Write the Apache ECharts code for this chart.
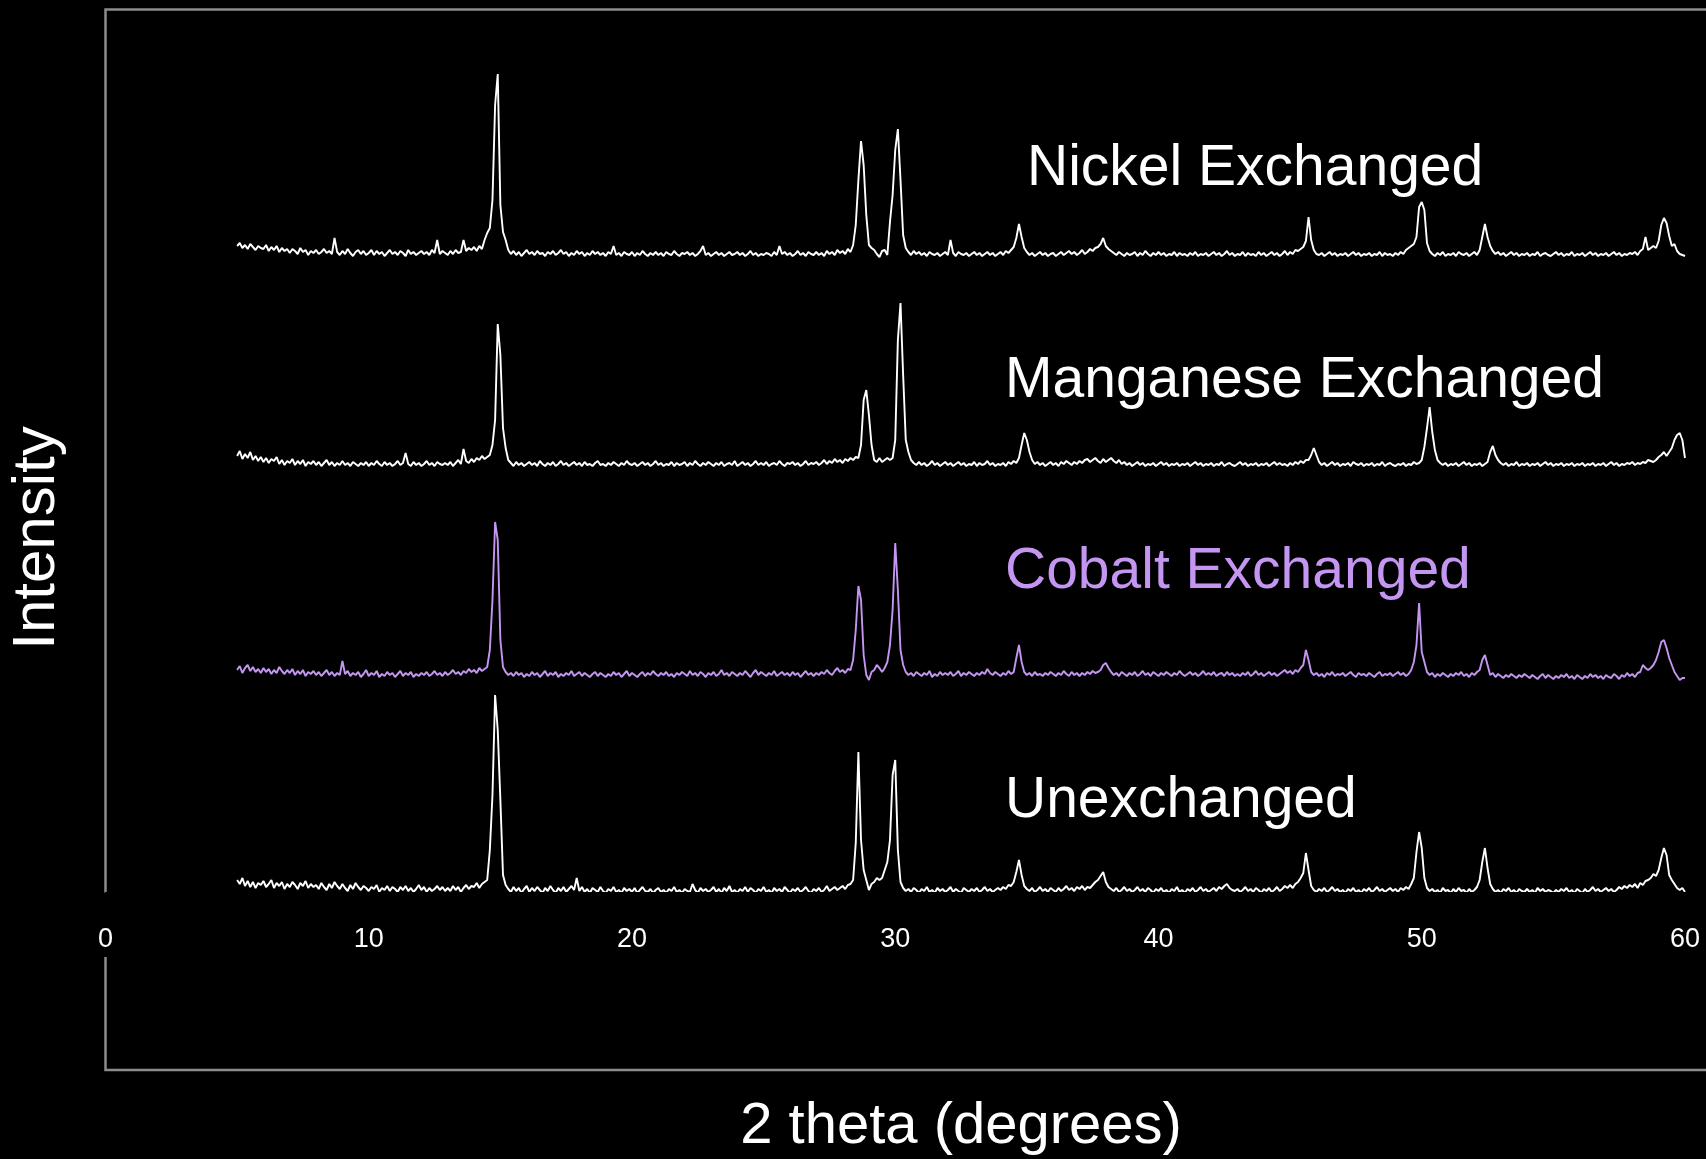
<!DOCTYPE html>
<html>
<head>
<meta charset="utf-8">
<style>
html,body{margin:0;padding:0;background:#000;}
#chart{width:1706px;height:1159px;}
</style>
<script src="https://cdn.jsdelivr.net/npm/echarts@6/dist/echarts.min.js"></script>
</head>
<body>
<div id="chart"></div>
<script>
// 2-theta sampling of the patterns (degrees)
var thetaStart = 5.0;
var thetaStep = 0.1;
var xTicks = [0, 10, 20, 30, 40, 50, 60];

var seriesNames = ['Nickel Exchanged', 'Manganese Exchanged', 'Cobalt Exchanged', 'Unexchanged'];

// Intensities (offset, arbitrary units), one value per 0.1 degree from 5.0 to 60.0
var nickel = [
660,663,658,661,657,662,659,656,660,658,
657,661,655,659,656,660,654,658,655,657,
653,657,655,652,658,654,656,651,655,653,
656,652,654,657,653,655,652,668,654,651,
655,652,657,653,650,654,656,652,655,651,
653,656,651,655,652,654,650,653,656,652,
654,651,655,653,650,656,652,654,651,653,
655,652,654,651,656,653,666,652,655,653,
651,655,652,656,653,654,666,655,658,656,
659,655,660,657,666,673,678,706,801,832,
701,674,666,656,652,655,651,654,650,653,
656,652,654,651,655,652,653,650,654,652,
655,651,653,656,652,654,650,653,651,655,
652,654,650,653,651,655,652,654,651,653,
650,654,652,660,651,653,650,654,652,651,
654,650,653,651,655,652,650,653,651,654,
651,653,650,654,652,651,655,652,650,653,
652,654,651,653,650,652,655,660,651,653,
650,652,654,651,653,650,652,654,651,652,
654,651,653,650,652,655,651,653,650,652,
651,653,652,650,654,651,660,652,654,651,
653,650,652,655,651,653,650,654,652,651,
654,651,653,650,655,652,654,651,656,653,
655,652,657,654,661,681,726,765,741,691,
661,658,656,652,649,655,656,651,684,711,
756,777,726,671,658,654,651,655,652,654,
651,653,650,654,652,651,653,650,652,654,
651,666,653,650,654,652,651,653,650,652,
654,651,653,650,652,654,651,653,650,652,
654,651,655,653,656,659,668,682,669,658,
654,651,653,650,652,654,651,653,650,652,
653,650,652,654,651,653,655,652,654,651,
653,656,652,654,657,655,658,659,662,668,
660,657,655,653,651,654,652,650,653,651,
652,654,650,653,651,655,652,650,653,651,
654,651,653,650,652,651,654,650,653,651,
652,650,653,651,654,650,652,651,653,650,
652,654,651,653,650,652,655,651,653,650,
652,651,654,650,653,651,652,650,654,651,
653,650,652,654,651,653,650,652,655,651,
654,652,656,655,657,659,665,689,666,656,
652,651,653,650,652,654,651,653,650,652,
651,653,650,652,654,651,653,650,652,651,
653,650,652,651,654,650,653,651,652,650,
653,651,654,652,656,658,660,662,669,699,
704,696,663,655,652,650,653,651,654,650,
652,651,653,650,654,652,651,653,650,652,
654,651,656,669,682,669,660,655,652,654,
651,653,650,652,654,651,653,650,652,651,
653,650,652,651,654,650,652,653,651,650,
652,654,651,653,650,652,651,654,650,652,
651,653,650,652,654,651,653,650,652,651,
653,650,652,654,651,653,650,652,651,653,
652,654,651,655,657,669,656,658,660,658,
665,681,688,683,670,660,662,655,652,651,
650
];

var manganese = [
450,455,447,452,448,454,446,450,445,449,
444,448,443,447,445,449,442,446,441,445,
443,447,441,445,442,446,440,444,442,445,
441,444,440,443,446,441,444,440,443,441,
445,441,443,440,444,442,440,443,441,444,
440,443,441,445,442,440,444,441,443,440,
442,445,441,443,453,442,440,444,441,443,
440,442,445,441,443,440,444,442,441,443,
441,444,440,443,446,442,457,445,443,447,
444,448,446,450,447,449,451,461,486,582,
551,478,458,446,443,440,444,441,443,440,
442,444,441,443,440,445,442,440,443,441,
444,440,442,445,441,443,440,442,444,441,
443,440,444,441,442,440,443,445,441,442,
440,443,441,444,442,440,443,441,445,442,
441,443,440,442,444,441,443,440,442,445,
441,443,440,442,441,444,440,443,441,442,
444,440,443,441,445,442,440,443,441,444,
442,440,443,441,444,440,442,443,441,445,
440,442,444,441,443,440,442,445,441,443,
441,444,440,442,443,441,445,442,440,443,
442,444,441,443,440,442,445,441,443,442,
444,441,443,446,442,445,443,447,444,446,
443,447,445,448,446,449,448,461,506,516,
491,461,446,444,448,444,446,448,446,448,
466,566,603,531,466,454,446,443,441,444,
441,443,440,442,445,441,443,440,442,444,
441,443,440,442,444,441,443,440,442,441,
444,440,443,441,442,445,441,443,440,442,
441,443,440,444,442,445,443,448,461,473,
466,454,446,442,444,441,443,440,442,444,
441,443,440,444,442,445,443,441,444,442,
445,443,446,447,444,446,448,445,443,447,
444,446,448,445,443,446,442,444,441,443,
440,442,444,441,443,440,442,441,443,440,
442,444,441,443,440,442,441,443,440,442,
441,443,440,442,444,441,443,440,442,441,
443,440,442,441,444,440,442,443,441,440,
442,444,441,443,440,442,441,443,440,442,
441,443,440,442,444,441,443,441,442,440,
443,441,444,442,445,443,446,446,451,458,
451,444,441,443,440,442,444,441,443,440,
442,441,443,440,444,442,441,443,440,442,
441,443,440,442,441,444,440,442,443,441,
440,442,441,443,440,442,441,444,442,443,
446,459,478,499,474,456,446,443,441,443,
440,442,441,443,440,442,444,441,443,440,
442,441,443,440,442,444,454,460,451,446,
443,441,443,440,442,441,444,440,442,441,
443,440,442,441,443,440,442,444,441,443,
440,442,441,443,440,442,441,443,440,442,
441,443,440,442,441,443,440,442,441,443,
440,442,444,441,443,440,442,441,443,442,
444,441,443,442,444,443,446,445,444,446,
449,451,454,450,454,458,466,471,473,466,
448
];

var cobalt = [
236,240,233,238,241,235,239,234,237,233,
238,234,237,232,236,233,239,235,232,236,
233,237,231,235,232,236,230,234,232,235,
231,234,230,233,236,231,234,230,233,231,
245,232,235,230,233,231,234,229,232,236,
230,233,231,235,229,232,230,234,231,233,
229,232,235,230,233,231,234,229,232,230,
233,231,234,230,232,235,231,233,230,234,
231,233,236,232,234,231,235,233,237,234,
236,233,238,235,237,239,256,306,384,366,
266,239,234,231,233,230,234,231,233,229,
232,230,234,231,233,229,232,235,230,233,
231,234,229,232,230,233,231,235,230,232,
234,230,233,231,229,232,234,230,233,231,
229,232,230,234,231,233,229,232,235,230,
233,231,229,232,234,230,233,231,235,232,
230,233,231,234,230,232,229,233,231,234,
232,230,235,231,233,230,234,232,229,233,
231,234,230,232,236,231,233,230,234,232,
230,233,231,235,232,229,233,236,231,234,
232,230,233,231,235,230,232,234,231,233,
230,234,231,233,229,232,235,231,233,230,
233,231,234,232,236,233,231,235,238,234,
236,233,237,236,246,276,320,306,251,231,
226,234,236,241,238,234,238,244,261,296,
363,316,256,241,234,231,233,230,234,232,
230,233,231,235,229,232,230,234,231,233,
231,234,230,232,235,230,233,231,234,232,
230,233,231,234,232,237,233,231,234,232,
230,233,231,235,232,234,248,261,244,234,
231,233,230,234,231,232,230,233,231,234,
232,230,233,231,235,232,230,234,231,233,
230,233,231,234,232,235,233,234,236,241,
243,238,234,231,233,230,234,232,230,233,
231,234,230,232,235,231,233,230,234,232,
230,233,231,234,232,230,233,231,235,232,
230,232,234,231,233,230,232,235,231,233,
231,234,230,232,233,230,234,231,233,230,
232,230,233,231,234,230,232,235,231,233,
230,232,234,231,233,230,232,234,236,233,
235,232,236,234,238,241,256,246,234,231,
233,230,232,229,233,231,234,230,232,231,
233,230,232,234,231,229,233,231,232,230,
233,231,229,232,234,230,232,231,233,230,
232,234,231,233,230,232,236,244,261,303,
254,244,234,231,233,229,232,230,233,231,
229,232,230,233,231,234,230,232,229,233,
231,234,236,246,251,241,231,233,229,232,
230,228,231,229,232,230,228,231,229,232,
230,228,231,229,227,230,232,228,231,229,
227,230,228,231,229,232,228,230,227,231,
229,227,230,228,232,229,231,228,230,227,
231,229,228,232,230,227,231,229,233,230,
232,229,233,234,241,238,236,238,241,246,
254,264,266,258,248,241,234,230,226,228,
228
];

var unexchanged = [
26,22,28,20,25,19,24,18,23,21,
25,19,22,26,18,23,20,24,17,22,
19,24,21,17,23,20,25,18,22,19,
21,17,23,19,16,22,18,24,20,17,
22,18,15,21,17,23,19,16,20,18,
15,19,17,21,14,18,16,20,15,19,
17,14,19,16,20,15,18,14,17,21,
16,19,14,18,15,17,20,16,19,15,
18,15,20,16,19,14,18,21,17,20,
19,23,18,22,24,26,56,111,211,176,
106,31,21,17,14,19,15,18,13,17,
20,14,18,15,19,16,13,18,15,20,
16,13,18,15,19,14,17,20,16,28,
15,19,14,17,13,18,16,14,19,15,
13,17,15,19,14,16,13,18,15,17,
14,18,13,16,19,15,14,17,13,16,
18,14,16,13,17,15,19,14,16,13,
17,15,14,22,16,13,18,15,17,14,
16,19,14,17,13,18,15,20,14,16,
13,17,15,19,14,18,16,13,17,15,
19,14,16,13,18,15,17,14,19,16,
13,17,15,18,14,16,19,15,13,17,
15,18,14,16,20,15,17,19,16,18,
20,17,21,22,26,63,154,66,36,26,
16,22,24,28,26,28,36,44,66,131,
146,56,24,18,15,17,14,18,16,13,
17,15,19,14,16,13,18,15,17,14,
16,19,14,17,15,13,18,16,14,17,
15,18,14,16,19,15,17,14,16,18,
16,19,17,21,20,24,34,46,31,20,
17,15,18,14,16,19,15,17,14,18,
16,14,18,15,17,20,16,18,15,19,
17,20,16,19,18,21,24,26,30,34,
24,19,17,15,18,14,16,19,15,17,
14,16,19,15,17,14,18,16,13,17,
15,18,14,16,13,17,15,19,14,16,
13,17,15,18,14,16,19,15,17,14,
16,18,15,19,17,20,22,18,16,15,
17,14,16,19,15,17,14,18,16,13,
17,15,18,14,16,19,15,17,20,18,
21,18,22,24,28,33,53,36,20,16,
14,17,15,18,14,16,19,15,17,14,
16,13,17,15,18,14,16,13,17,15,
18,14,16,19,15,17,14,16,18,15,
17,14,18,16,19,17,22,28,54,74,
58,28,18,15,17,14,16,13,18,15,
16,13,17,14,18,15,16,13,17,14,
16,19,26,44,58,38,22,17,14,16,
13,17,15,18,14,16,13,17,15,14,
17,14,16,13,18,15,17,14,16,15,
13,16,14,17,15,18,14,16,13,17,
15,13,17,14,16,19,15,17,14,16,
18,15,17,14,16,19,17,20,18,21,
19,22,18,23,21,25,26,28,32,30,
36,48,58,51,31,26,22,18,16,18,
14
];

var seriesValues = [nickel, manganese, cobalt, unexchanged];
var seriesColors = ['#ffffff', '#ffffff', '#c496f2', '#ffffff'];

function toPairs(vals) {
  var out = [];
  for (var i = 0; i < vals.length; i++) {
    out.push([+(thetaStart + i * thetaStep).toFixed(1), vals[i]]);
  }
  return out;
}

var FONT = '"Liberation Sans", Arial, Helvetica, sans-serif';

var chart = echarts.init(document.getElementById('chart'), null, {renderer: 'canvas'});

var labelPos = [
  {x: 1027, y: 169},
  {x: 1005, y: 381},
  {x: 1005, y: 572},
  {x: 1005, y: 801}
];

var graphics = [
  {
    type: 'polyline', z: -10, silent: true,
    shape: {points: [[1730, 9.5], [105.5, 9.5], [105.5, 1070], [1730, 1070]]},
    style: {stroke: '#8c8c8c', lineWidth: 2.5, fill: null}
  },
  {
    type: 'text', x: 961, y: 1127, z: 5,
    style: {text: '2 theta (degrees)', fill: '#ffffff', fontSize: 58, fontFamily: FONT,
            textAlign: 'center', textVerticalAlign: 'middle'}
  },
  {
    type: 'text', x: 37, y: 538, rotation: Math.PI / 2, z: 5,
    style: {text: 'Intensity', fill: '#ffffff', fontSize: 60, fontFamily: FONT,
            textAlign: 'center', textVerticalAlign: 'middle'}
  }
];
seriesNames.forEach(function (n, i) {
  graphics.push({
    type: 'text', x: labelPos[i].x, y: labelPos[i].y, z: 5,
    style: {text: n, fill: seriesColors[i], fontSize: 57, fontFamily: FONT,
            textAlign: 'left', textVerticalAlign: 'middle'}
  });
});

var option = {
  backgroundColor: '#000000',
  animation: false,
  grid: {left: 105.5, right: 18.4, top: 6, bottom: 266, containLabel: false},
  xAxis: {
    type: 'value', min: 0, max: 60, interval: 10, z: 10,
    axisLine: {show: true, lineStyle: {color: '#000000', width: 2}},
    axisTick: {show: false},
    splitLine: {show: false},
    axisLabel: {
      color: '#ffffff', fontSize: 27, fontFamily: FONT, margin: 0,
      lineHeight: 27, backgroundColor: '#000000', padding: [33, 3, 4, 3],
      formatter: function (v) { return xTicks.indexOf(v) >= 0 ? String(v) : ''; }
    }
  },
  yAxis: {
    type: 'value', min: 13, max: 900, show: false,
    splitLine: {show: false}
  },
  graphic: graphics,
  series: seriesNames.map(function (n, i) {
    return {
      name: n, type: 'line', data: toPairs(seriesValues[i]),
      showSymbol: false, symbol: 'none', clip: false,
      lineStyle: {color: seriesColors[i], width: 1.9},
      itemStyle: {color: seriesColors[i]}
    };
  })
};
chart.setOption(option);
</script>
</body>
</html>
